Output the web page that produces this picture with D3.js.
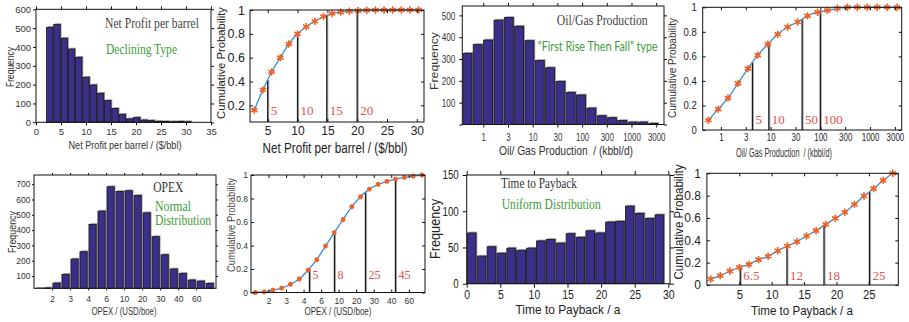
<!DOCTYPE html>
<html>
<head>
<meta charset="utf-8">
<script src="https://cdn.jsdelivr.net/npm/d3@7"></script>
<style>
  body { margin: 0; background: #fff; }
  svg { display: block; }
  text { white-space: pre; }
</style>
</head>
<body>
<svg id="chart" width="909" height="322"></svg>
<script>
// ---- data ----
// net profit per barrel ($/bbl): bin centres, histogram counts, cumulative probability
const netBins = [2.75, 4.2, 5.65, 7.1, 8.55, 10.0, 11.45, 12.9, 14.35, 15.8, 17.25, 18.7, 20.15, 21.6, 23.05, 24.5, 25.95, 27.4, 28.85, 30.3];
const netFreq = [504, 519, 446, 389, 345, 239, 198, 154, 115, 73, 42, 18, 25, 12, 9, 5, 4, 3, 4, 3];
const netCdf = [0.16, 0.33, 0.48, 0.60, 0.715, 0.80, 0.86, 0.905, 0.945, 0.97, 0.982, 0.99, 0.995, 0.998, 1, 1, 1, 1, 1, 1];
const netCuts = [5, 10, 14.9, 20];
const netCutLabels = ["5", "10", "15", "20"];

// oil/gas production (kbbl/d), log axis
const prodBins = [0.48, 0.77, 1.25, 2.03, 3.28, 5.3, 8.6, 13.9, 22.5, 36.4, 58.8, 95, 154, 249, 403, 652, 1056, 1708, 2763];
const prodFreq = [326, 366, 387, 478, 490, 450, 384, 293, 260, 197, 147, 135, 75, 40, 31, 18, 11, 11, 5];
const prodCdfX = [0.56, 0.88, 1.39, 2.2, 3.5, 5.5, 8.8, 13.9, 22, 35, 55, 88, 139, 220, 350, 555, 880, 1390, 2200, 3500];
const prodCdf = [0.08, 0.17, 0.26, 0.38, 0.50, 0.61, 0.70, 0.78, 0.84, 0.88, 0.93, 0.96, 0.975, 0.99, 1, 1, 1, 1, 1, 1];
const prodTicks = [1, 3.162, 10, 31.62, 100, 316.2, 1000, 3162];
const prodTickLabels = ["1", "3", "10", "30", "100", "300", "1000", "3000"];
const prodCuts = [4.3, 9.2, 43, 100];
const prodCutLabels = ["5", "10", "50", "100"];

// OPEX (USD/boe): 20 bins on a category axis
const opexFreq = [8, 22, 54, 111, 211, 259, 437, 524, 683, 652, 657, 626, 513, 357, 239, 146, 117, 74, 67, 52];
const opexCdf = [0, 0.006, 0.02, 0.037, 0.07, 0.115, 0.19, 0.28, 0.395, 0.51, 0.62, 0.73, 0.815, 0.88, 0.92, 0.946, 0.965, 0.98, 0.99, 1.0];
const opexTickBins = [2, 4, 6, 8, 10, 12, 14, 16, 18];
const opexTickLabels = ["2", "3", "4", "6", "10", "20", "30", "40", "60"];
const opexCuts = [6.67, 9.52, 13.06, 16.48];
const opexCutLabels = ["5", "8", "25", "45"];

// time to payback (a)
const timeBins = [0.74, 2.21, 3.68, 5.15, 6.62, 8.09, 9.56, 11.03, 12.5, 13.97, 15.44, 16.91, 18.38, 19.85, 21.32, 22.79, 24.26, 25.73, 27.2, 28.67];
const timeFreq = [70, 38, 51, 42, 49, 46, 49, 59, 61, 56, 69, 64, 73, 70, 85, 86, 107, 97, 90, 95];
const timeCdfX = [0.58, 2.06, 3.54, 5.02, 6.5, 7.98, 9.46, 10.94, 12.42, 13.9, 15.38, 16.86, 18.34, 19.82, 21.3, 22.78, 24.26, 25.74, 27.22, 28.7];
const timeCdf = [0.054, 0.084, 0.125, 0.158, 0.185, 0.227, 0.257, 0.307, 0.349, 0.388, 0.439, 0.487, 0.543, 0.597, 0.651, 0.722, 0.797, 0.863, 0.937, 1.0];
const timeCuts = [5.15, 12.36, 18.08, 25.1];
const timeCutLabels = ["6.5", "12", "18", "25"];

const SANS = "'Liberation Sans', Arial, sans-serif";
const SERIF = "'Liberation Serif', 'Times New Roman', serif";
const BAR = "#3b3089", GREEN = "#3c9c3c", RED = "#e5514b", BLUE = "#3d8fd1", ORANGE = "#eb6126";

const svg = d3.select("#chart");
svg.append("rect").attr("width", 909).attr("height", 322).attr("fill", "#fff");

function label(t, x, y, o) {
  const el = svg.append("text").text(t)
    .attr("font-family", o.font || SANS)
    .attr("font-size", o.size)
    .attr("fill", o.fill || "#222")
    .attr("text-anchor", o.anchor || "middle");
  if (o.rot) el.attr("transform", `translate(${x},${y}) rotate(-90)`).attr("dy", "0.35em");
  else el.attr("x", x).attr("y", y);
  if (o.len) el.attr("textLength", o.len).attr("lengthAdjust", "spacingAndGlyphs");
  return el;
}

// squeeze tick labels the way the reference panels are squeezed
function squeeze(sel, dw) {
  if (!dw) return;
  sel.attr("textLength", function () {
    const s = this.textContent;
    return (s.replace(/\./g, "").length + (s.includes(".") ? 0.5 : 0)) * dw;
  }).attr("lengthAdjust", "spacingAndGlyphs");
}

// frame with ticks on all four sides, labels on bottom and left
function axes(x, y, o) {
  const [x0, x1] = x.range(), [y1, y0] = y.range();
  const g = svg.append("g");
  const t = o.inward ? -o.tick : o.tick;
  const mk = (gen, tr, vals, fmt, pad, dw) => {
    const a = g.append("g").attr("transform", tr)
      .call(gen.tickValues(vals).tickFormat(fmt).tickSizeInner(t).tickSizeOuter(0).tickPadding(pad));
    a.select(".domain").remove();
    a.selectAll("line").attr("stroke", "#111");
    const tx = a.selectAll("text").attr("font-family", SANS).attr("font-size", o.fs).attr("fill", o.col || "#222");
    squeeze(tx, dw);
  };
  mk(d3.axisBottom(x), `translate(0,${y1})`, o.xv, o.xf, o.xpad, o.xdw);
  mk(d3.axisTop(x), `translate(0,${y0})`, o.xv, () => "", 0);
  mk(d3.axisLeft(y), `translate(${x0},0)`, o.yv, o.yf, o.ypad, o.ydw);
  mk(d3.axisRight(y), `translate(${x1},0)`, o.yv, () => "", 0);
  g.append("rect")
    .attr("x", x0).attr("y", y0)
    .attr("width", x1 - x0).attr("height", y1 - y0)
    .attr("fill", "none").attr("stroke", "#111").attr("stroke-width", 1);
}

function bars(x, y, centers, vals, gap) {
  const w = Math.abs(x(centers[1]) - x(centers[0])) - gap;
  const base = y.range()[0];
  const g = svg.append("g");
  g.selectAll("rect.sh").data(vals).join("rect").attr("class", "sh")
    .attr("x", (d, i) => x(centers[i]) - w / 2 + 1.3)
    .attr("y", d => y(d) - 1.3)
    .attr("width", w)
    .attr("height", d => Math.max(0, base - y(d)) + 1.3)
    .attr("fill", "#9b9b9b");
  g.selectAll("rect.bar").data(vals).join("rect").attr("class", "bar")
    .attr("x", (d, i) => x(centers[i]) - w / 2)
    .attr("y", d => y(d))
    .attr("width", w)
    .attr("height", d => Math.max(0, base - y(d)))
    .attr("fill", BAR)
    .attr("stroke", "#151515")
    .attr("stroke-width", 0.8);
}

function cdf(x, y, xs, vs, cuts, cutLabels, o) {
  const pts = xs.map((d, i) => [x(d), y(vs[i])]);
  const g = svg.append("g");
  const base = y.range()[0];
  cuts.forEach((c, i) => {
    const px = x(c);
    let j = pts.findIndex(p => p[0] >= px);
    if (j < 1) j = 1;
    const a = pts[j - 1], b = pts[j];
    const py = a[1] + (b[1] - a[1]) * (px - a[0]) / (b[0] - a[0]);
    g.append("line").attr("x1", px + 1).attr("x2", px + 1).attr("y1", base).attr("y2", py)
      .attr("stroke", "#b5b5b5").attr("stroke-width", 1.2);
    g.append("line").attr("x1", px).attr("x2", px).attr("y1", base).attr("y2", py)
      .attr("stroke", "#1a1a1a").attr("stroke-width", 1.3);
    g.append("text").text(cutLabels[i])
      .attr("x", px + 3).attr("y", o.ly)
      .attr("font-family", SERIF).attr("font-size", o.lfs).attr("fill", RED);
  });
  g.append("path").datum(pts)
    .attr("d", d3.line().curve(d3.curveMonotoneX))
    .attr("fill", "none").attr("stroke", BLUE).attr("stroke-width", 1.3);
  g.selectAll("path.m").data(pts).join("path").attr("class", "m")
    .attr("transform", p => `translate(${p[0]},${p[1]})`)
    .attr("d", d3.symbol(d3.symbolAsterisk, o.ms))
    .attr("fill", "none").attr("stroke", ORANGE).attr("stroke-width", o.sw || 1.6);
}

const fmt = d3.format("~g");

// ---- panel 1: net profit histogram ----
{
  const x = d3.scaleLinear().domain([0, 35]).range([36, 211]);
  const y = d3.scaleLinear().domain([0, 600]).range([122.3, 9.3]);
  bars(x, y, netBins, netFreq, 0.8);
  axes(x, y, { tick: 3, fs: 9.5, col: "#333", xv: d3.range(0, 36, 5), xf: fmt, xpad: 3, yv: d3.range(0, 601, 100), yf: fmt, ypad: 2 });
  label("Net Profit per barrel / ($/bbl)", 125, 148.5, { size: 11, len: 113, fill: "#333" });
  label("Frequency", 10, 67, { size: 10, len: 40, rot: true, fill: "#333" });
  label("Net Profit per barrel", 105, 27.5, { size: 14.5, len: 94, anchor: "start", font: SERIF, fill: "#444" });
  label("Declining Type", 106, 54, { size: 14.5, len: 71, anchor: "start", font: SERIF, fill: GREEN });
}

// ---- panel 2: net profit CDF ----
{
  const x = d3.scaleLinear().domain([2.03, 31.2]).range([250, 424]);
  const y = d3.scaleLinear().domain([0.06, 1]).range([122, 10]);
  cdf(x, y, netBins, netCdf, netCuts, netCutLabels, { ly: 114.5, lfs: 13, ms: 38 });
  axes(x, y, { tick: 3, inward: true, fs: 12.5, xv: [5, 10, 15, 20, 25, 30], xf: fmt, xpad: 4.5, xdw: 6.7,
    yv: [0.2, 0.4, 0.6, 0.8, 1], yf: fmt, ypad: 5 });
  label("Net Profit per barrel / ($/bbl)", 335, 153, { size: 14, len: 145 });
  label("Cumulative Probability", 221, 63, { size: 11.5, len: 112, rot: true });
}

// ---- panel 3: production histogram ----
{
  const x = d3.scaleLog().domain([0.376, 4550]).range([462.3, 664]);
  const y = d3.scaleLinear().domain([0, 543]).range([124.5, 6]);
  bars(x, y, prodBins, prodFreq, 1.2);
  axes(x, y, { tick: 3, fs: 11.5, col: "#333", xv: prodTicks, xf: (d, i) => prodTickLabels[i], xpad: 5, xdw: 4.4,
    yv: [0, 100, 200, 300, 400, 500], yf: d => d === 0 ? "" : fmt(d), ypad: 4, ydw: 4.5 });
  label("Oil/ Gas Production  / (kbbl/d)", 566, 155, { size: 13, len: 134, fill: "#333" });
  label("Frequency", 434, 61, { size: 11.5, len: 58, rot: true, fill: "#333" });
  label("Oil/Gas Production", 556.7, 25, { size: 14.5, len: 91, anchor: "start", font: SERIF, fill: "#444" });
  label("\u201CFirst Rise Then Fall\u201D type", 537.7, 50.7, { size: 13.5, len: 120, anchor: "start", font: "Lato, 'Open Sans', sans-serif", fill: GREEN });
}

// ---- panel 4: production CDF ----
{
  const x = d3.scaleLog().domain([0.43, 4330]).range([702.7, 901.7]);
  const y = d3.scaleLinear().domain([0, 1]).range([130, 7.3]);
  cdf(x, y, prodCdfX, prodCdf, prodCuts, prodCutLabels, { ly: 123.5, lfs: 13, ms: 38 });
  axes(x, y, { tick: 3, inward: true, fs: 10, xv: prodTicks, xf: (d, i) => prodTickLabels[i], xpad: 4, xdw: 4.4,
    yv: [0, 0.2, 0.4, 0.6, 0.8, 1], yf: fmt, ypad: 6, ydw: 5.3 });
  label("Oil/ Gas Production  / (kbbl/d)", 784, 157, { size: 12, len: 96, fill: "#333" });
  label("Cumulative Probability", 672, 68, { size: 10, len: 100, rot: true, fill: "#333" });
}

// ---- panel 5: OPEX histogram ----
{
  const x = d3.scaleLinear().domain([0, 20.2]).range([34, 216]);
  const y = d3.scaleLinear().domain([20, 760]).range([288.3, 175]).clamp(true);
  bars(x, y, opexFreq.map((d, i) => i + 0.5), opexFreq, 1.8);
  axes(x, y, { tick: 2, fs: 8.5, col: "#333", xv: opexTickBins, xf: (d, i) => opexTickLabels[i], xpad: 6,
    yv: [100, 200, 300, 400, 500, 600, 700], yf: fmt, ypad: 1.5 });
  label("OPEX / (USD/boe)", 124, 314.5, { size: 10.5, len: 65, fill: "#333" });
  label("Frequency", 12, 232, { size: 10.5, len: 42, rot: true, fill: "#333" });
  label("OPEX", 153.3, 192, { size: 15, len: 30, anchor: "start", font: SERIF, fill: "#333" });
  label("Normal", 155, 210.7, { size: 15, len: 36, anchor: "start", font: SERIF, fill: GREEN });
  label("Distribution", 155, 225, { size: 15, len: 56, anchor: "start", font: SERIF, fill: GREEN });
}

// ---- panel 6: OPEX CDF ----
{
  const x = d3.scaleLinear().domain([0, 19.85]).range([251, 425]);
  const y = d3.scaleLinear().domain([0, 1]).range([292.5, 175]);
  cdf(x, y, opexCdf.map((d, i) => i + 0.5), opexCdf, opexCuts, opexCutLabels, { ly: 278.5, lfs: 12, ms: 16, sw: 2 });
  axes(x, y, { tick: 3, inward: true, fs: 8.5, col: "#333", xv: opexTickBins, xf: (d, i) => opexTickLabels[i], xpad: 5,
    yv: [0, 0.2, 0.4, 0.6, 0.8, 1], yf: fmt, ypad: 3 });
  label("OPEX / (USD/boe)", 338, 314.5, { size: 10.5, len: 67, fill: "#333" });
  label("Cumulative Probability", 231, 225, { size: 10, len: 94, rot: true, fill: "#444" });
}

// ---- panel 7: time to payback histogram ----
{
  const x = d3.scaleLinear().domain([0, 30.25]).range([466.7, 670]);
  const y = d3.scaleLinear().domain([0, 150]).range([283.7, 175]);
  bars(x, y, timeBins, timeFreq, 1.2);
  axes(x, y, { tick: 4, fs: 12, xv: d3.range(0, 31, 5), xf: fmt, xpad: 3, xdw: 5.8,
    yv: [0, 50, 100, 150], yf: fmt, ypad: 4, ydw: 5.4 });
  label("Time to Payback / a", 568, 314, { size: 13.5, len: 105 });
  label("Frequency", 435, 229, { size: 14, len: 60, rot: true });
  label("Time to Payback", 501, 188, { size: 14, len: 76, anchor: "start", font: SERIF, fill: "#333" });
  label("Uniform Distribution", 501.7, 209, { size: 14, len: 99, anchor: "start", font: SERIF, fill: GREEN });
}

// ---- panel 8: time to payback CDF ----
{
  const x = d3.scaleLinear().domain([0, 29.55]).range([706.9, 898.3]);
  const y = d3.scaleLinear().domain([0, 1]).range([285, 173.3]);
  cdf(x, y, timeCdfX, timeCdf, timeCuts, timeCutLabels, { ly: 280, lfs: 13, ms: 38 });
  axes(x, y, { tick: 3, inward: true, fs: 12, xv: [5, 10, 15, 20, 25], xf: fmt, xpad: 5.5, xdw: 6.3,
    yv: [0, 0.2, 0.4, 0.6, 0.8, 1], yf: fmt, ypad: 6 });
  label("Time to Payback / a", 802, 314.5, { size: 13, len: 102 });
  label("Cumulative Probability", 678.5, 222, { size: 12.5, len: 115, rot: true });
}
</script>
</body>
</html>
